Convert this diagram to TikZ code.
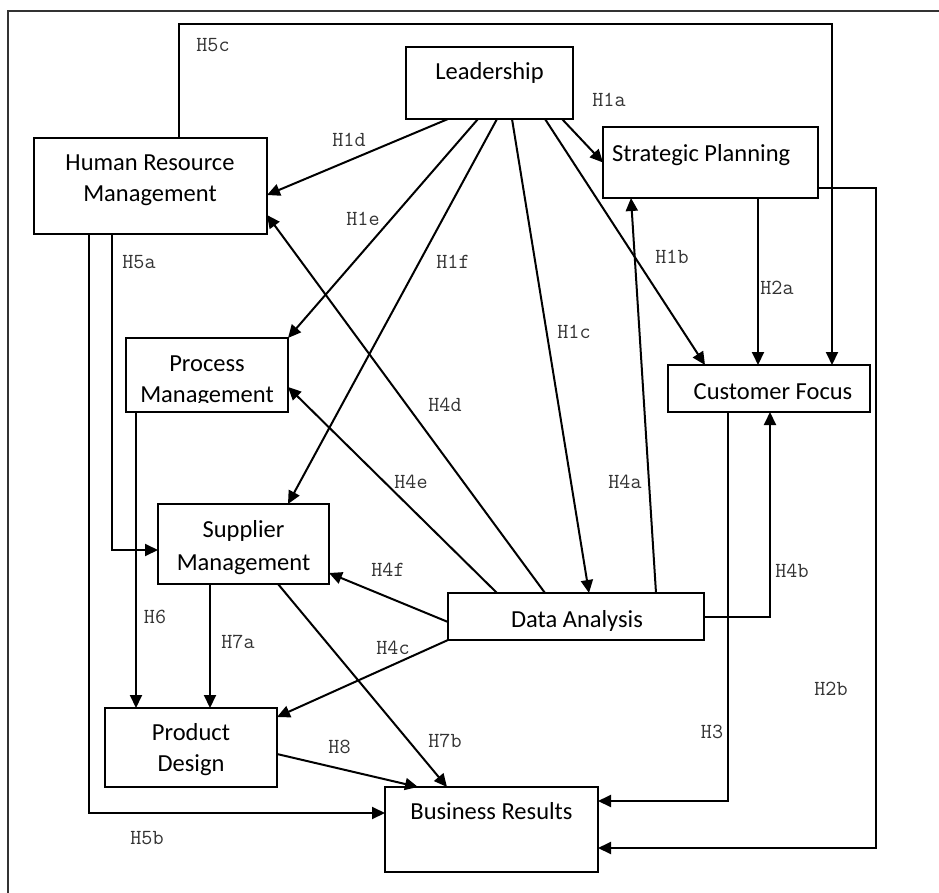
\documentclass[tikz,border=0pt]{standalone}
\usepackage{fontspec}
\setmainfont{Carlito}
\usetikzlibrary{arrows.meta}

\tikzset{
  box/.style={draw, line width=1.3pt, inner sep=0pt, outer sep=0pt},
  boxtext/.style={anchor=base, align=center, inner sep=0pt,
    font=\fontsize{24.5}{31}\selectfont},
  link/.style={line width=2pt, -{Triangle[length=13pt,width=12pt]}},
  hyp/.style={inner sep=0pt, text=black!80, font=\ttfamily\fontsize{21.5}{21.5}\selectfont},
}

\begin{document}
\begin{tikzpicture}[x=1pt, y=-1pt]
  \useasboundingbox (0,0) rectangle (939,893);
  \draw[line width=1.8pt, black!80] (8,893) -- (8,11) -- (939,11);

  % boxes
  \node[box, minimum width=167pt, minimum height=72pt] (lead) at (489.5,83) {};
  \node[box, minimum width=233pt, minimum height=96pt] (hrm) at (150.5,186) {};
  \node[box, minimum width=215pt, minimum height=71pt] (plan) at (710.5,162.5) {};
  \node[box, minimum width=162pt, minimum height=74pt] (proc) at (207,375) {};
  \node[box, minimum width=171pt, minimum height=80pt] (supp) at (243.5,544) {};
  \node[box, minimum width=202pt, minimum height=47pt] (cust) at (769,388.5) {};
  \node[box, minimum width=256pt, minimum height=47pt] (data) at (576,616.5) {};
  \node[box, minimum width=172pt, minimum height=79pt] (prod) at (191,747.5) {};
  \node[box, minimum width=213pt, minimum height=85pt] (biz) at (491.5,829.5) {};

  % box texts (base = last line)
  \node[boxtext] (lead-t) at (489.5,80) {Leadership};
  \node[boxtext] (hrm-t) at (150,202) {Human Resource\\Management};
  \node[boxtext, anchor=base west] (plan-t) at (612,162) {Strategic Planning};
  \begin{scope}
    \clip (126,338) rectangle (288,402);
    \node[boxtext] (proc-t) at (207,402) {Process\\Management};
  \end{scope}
  \node[boxtext, font=\fontsize{24.5}{33}\selectfont] (supp-t) at (243.5,570) {Supplier\\Management};
  \node[boxtext] (cust-t) at (773,399) {Customer Focus};
  \node[boxtext] (data-t) at (577,627) {Data Analysis};
  \node[boxtext] (prod-t) at (191,771) {Product\\Design};
  \node[boxtext] (biz-t) at (491.5,819) {Business Results};

  % connectors
  \draw[link] ([xshift=156pt]lead.south west) -- (plan.west);
  \draw[link] ([xshift=139pt]lead.south west) -- ([xshift=37pt]cust.north west);
  \draw[link] ([xshift=106pt]lead.south west) -- ([xshift=141pt]data.north west);
  \draw[link] ([xshift=42pt]lead.south west) -- ([yshift=-9pt]hrm.east);
  \draw[link] ([xshift=72pt]lead.south west) -- (proc.north east);
  \draw[link] ([xshift=91pt]lead.south west) -- ([xshift=130pt]supp.north west);
  \draw[link] ([xshift=155pt]plan.south west) -- ([xshift=90pt]cust.north west);
  \draw[link] ([yshift=-25.5pt]plan.east) -- ++(58,0) |- ([yshift=-18.5pt]biz.east);
  \draw[link] ([xshift=60pt]cust.south west) |- ([yshift=28.5pt]biz.east);
  \draw[link] ([xshift=208pt]data.north west) -- ([xshift=28pt]plan.south west);
  \draw[link] (data.east) -| ([xshift=102pt]cust.south west);
  \draw[link] (data.south west) -- ([yshift=-9pt]prod.north east);
  \draw[link] ([xshift=97pt]data.north west) -- ([yshift=-29pt]hrm.east);
  \draw[link] ([xshift=49pt]data.north west) -- ([yshift=-12pt]proc.east);
  \draw[link] ([yshift=-5.5pt]data.west) -- ([yshift=-29pt]supp.east);
  \draw[link] ([xshift=78pt]hrm.south west) |- ([yshift=-6pt]supp.west);
  \draw[link] ([xshift=55pt]hrm.south west) |- ([yshift=16.5pt]biz.west);
  \draw[link] ([xshift=145pt]hrm.north west) -- ++(0,-114) -| ([xshift=164pt]cust.north west);
  \draw[link] ([xshift=10pt]proc.south west) -- ([xshift=31pt]prod.north west);
  \draw[link] ([xshift=52pt]supp.south west) -- ([xshift=105pt]prod.north west);
  \draw[link] ([xshift=120pt]supp.south west) -- ([xshift=62pt]biz.north west);
  \draw[link] ([yshift=-6.5pt]prod.east) -- ([xshift=33pt]biz.north west);

  % hypothesis labels
  \node[hyp] (h5c) at (213,45) {H5c};
  \node[hyp] (h1d) at (349,140) {H1d};
  \node[hyp] (h1a) at (609,100) {H1a};
  \node[hyp] (h1e) at (363,219) {H1e};
  \node[hyp] (h1f) at (453,262) {H1f};
  \node[hyp] (h1b) at (672,257) {H1b};
  \node[hyp] (h5a) at (139,262) {H5a};
  \node[hyp] (h2a) at (777,288) {H2a};
  \node[hyp] (h1c) at (574,332) {H1c};
  \node[hyp] (h4d) at (445,405) {H4d};
  \node[hyp] (h4a) at (625,482) {H4a};
  \node[hyp] (h4e) at (411,482) {H4e};
  \node[hyp] (h4f) at (388,570) {H4f};
  \node[hyp] (h4b) at (792,571) {H4b};
  \node[hyp] (h6) at (155,617) {H6};
  \node[hyp] (h7a) at (238,642) {H7a};
  \node[hyp] (h4c) at (393,648) {H4c};
  \node[hyp] (h2b) at (831,689) {H2b};
  \node[hyp] (h3) at (712,732) {H3};
  \node[hyp] (h8) at (339.5,747) {H8};
  \node[hyp] (h7b) at (445,741) {H7b};
  \node[hyp] (h5b) at (147,838) {H5b};
\end{tikzpicture}
\end{document}
